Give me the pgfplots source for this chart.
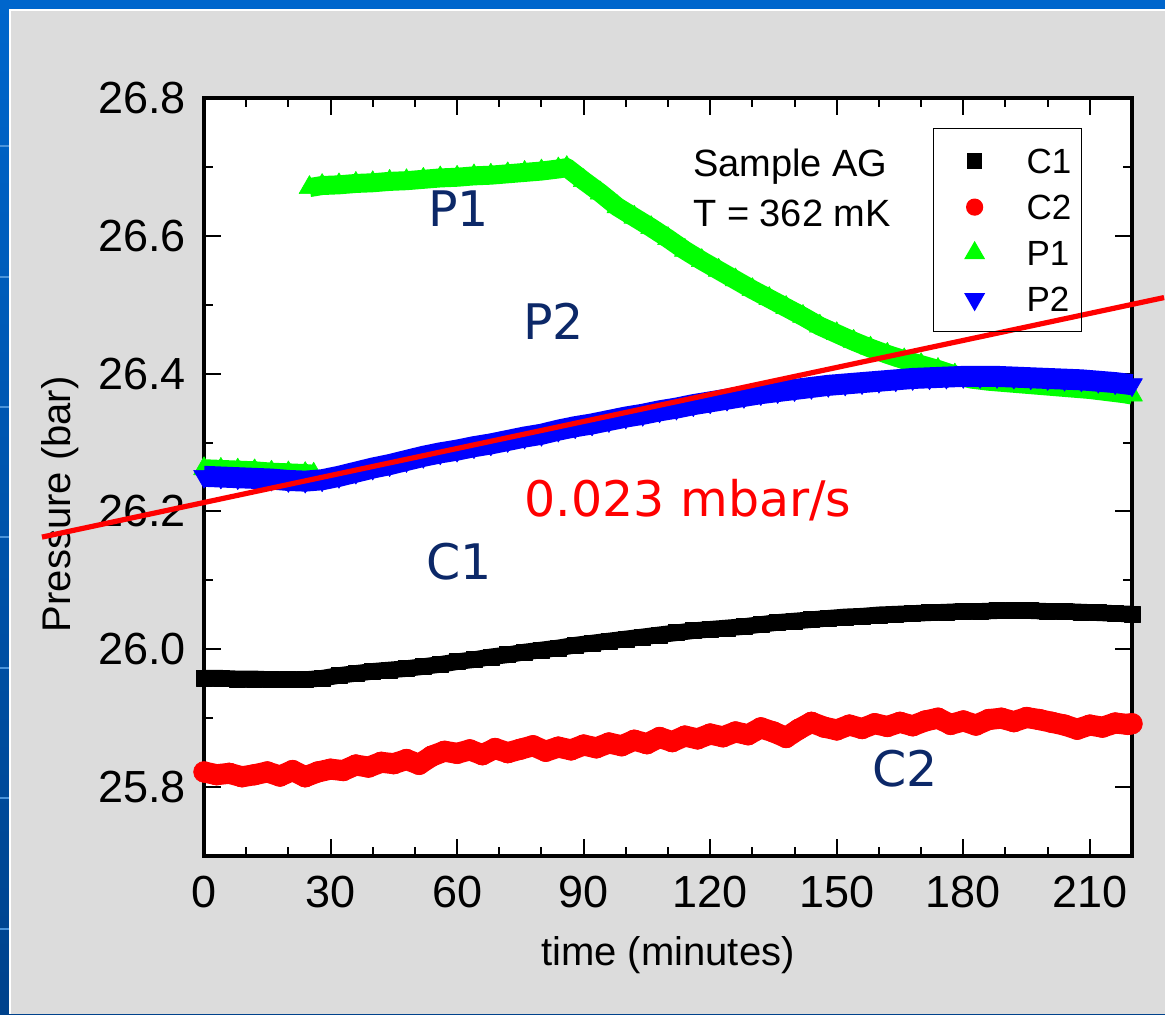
\documentclass[border=0pt]{standalone}
\usepackage{pgfplots}
\pgfplotsset{compat=1.18}
\usepackage{fontspec}
\setmainfont{Liberation Sans}
\newfontfamily\dejavu{DejaVu Sans}
\definecolor{navy}{RGB}{12,40,104}
\definecolor{slideblue}{RGB}{0,102,204}
\definecolor{slidebluedark}{RGB}{0,66,140}
\definecolor{panelgrey}{RGB}{220,220,220}
\definecolor{pgreen}{RGB}{0,255,0}
\definecolor{pblue}{RGB}{0,0,255}
\definecolor{cred}{RGB}{255,0,0}
\pgfplotsset{mylegimg/.style={legend image code/.code={\path[draw=none,fill=none] (0pt,-5.75pt) rectangle (41.5pt,5.75pt); \draw[##1] plot coordinates {(15.5pt,0pt)};}}}

\begin{document}
\begin{tikzpicture}
\shade[top color=slideblue, bottom color=slidebluedark] (0,0) rectangle (582.5pt,507pt);
\fill[slideblue] (0,502.5pt) rectangle (582.5pt,507pt);
\foreach \y in {42,107.5,172.5,238,303,368,433.5} \fill[slideblue!70!white] (0,\y pt) rectangle (4.6pt,\y pt+1.2pt);
\fill[white] (4.6pt,0) rectangle (582.5pt,502.4pt);
\fill[panelgrey] (5.4pt,0) rectangle (582.5pt,501.6pt);
\begin{axis}[
  at={(102pt,79pt)}, anchor=south west,
  scale only axis, width=464pt, height=379pt,
  xmin=0, xmax=220, ymin=25.7, ymax=26.8,
  xtick={0,30,60,90,120,150,180,210}, minor x tick num=2,
  ytick={25.8,26.0,26.2,26.4,26.6,26.8}, minor y tick num=1,
  yticklabel style={/pgf/number format/fixed, /pgf/number format/fixed zerofill, /pgf/number format/precision=1},
  /pgf/number format/assume math mode=true,
  tick label style={font=\fontsize{22.5}{27}\selectfont},
  xticklabel style={anchor=north, inner sep=0pt, yshift=-10pt},
  yticklabel style={anchor=east, inner sep=0pt, xshift=-9pt},
  tick align=inside,
  major tick length=8.3pt, minor tick length=4.7pt,
  every tick/.style={black, line width=1pt},
  axis line style={line width=1.8pt},
  axis background/.style={fill=white},
  clip=false, clip marker paths=true,
  xlabel={time (minutes)},
  label style={font=\fontsize{20}{24}\selectfont},
  xlabel style={at={(axis description cs:0.5,-0.1438)}, anchor=base},
  legend style={at={(rel axis cs:0.7856,0.9604)}, anchor=north west,
    draw=black, line width=0.6pt, fill=none,
    font=\fontsize{17.5}{20}\selectfont,
    inner xsep=5pt, inner ysep=10pt, row sep=10.5pt, column sep=0pt,
    nodes={inner sep=0pt, text height=12.5pt, text depth=0pt}},
  legend cell align=left,
]
% C1
\addplot[black, line width=8.3pt, line join=round, mark=square*, mark size=4pt, mark options={line width=0.3pt}, forget plot] table {
0 25.958
4 25.958
8 25.957
12 25.957
16 25.956
20 25.956
24 25.956
28 25.958
32 25.962
36 25.965
40 25.968
44 25.970
48 25.972
52 25.975
56 25.978
60 25.982
64 25.985
68 25.989
72 25.992
76 25.996
80 25.999
84 26.002
88 26.006
92 26.009
96 26.012
100 26.015
104 26.018
108 26.021
112 26.024
116 26.027
120 26.029
124 26.031
128 26.033
132 26.036
136 26.039
140 26.041
144 26.043
148 26.045
152 26.047
156 26.048
160 26.050
164 26.051
168 26.052
172 26.053
176 26.054
180 26.055
184 26.055
188 26.056
192 26.056
196 26.056
200 26.055
204 26.055
208 26.054
212 26.053
216 26.052
220 26.051
};
% C2
\addplot[cred, line width=10.5pt, line join=round, mark=*, mark size=5.2pt, mark options={line width=0.3pt}, forget plot] table {
0 25.822
3 25.818
6 25.820
9 25.815
12 25.818
15 25.822
18 25.816
21 25.824
24 25.815
27 25.822
30 25.826
33 25.824
36 25.832
39 25.829
42 25.836
45 25.834
48 25.840
51 25.833
54 25.845
57 25.852
60 25.849
63 25.854
66 25.847
69 25.856
72 25.850
75 25.855
78 25.860
81 25.852
84 25.858
87 25.854
90 25.861
93 25.857
96 25.864
99 25.860
102 25.868
105 25.863
108 25.872
111 25.866
114 25.874
117 25.870
120 25.877
123 25.873
126 25.880
129 25.876
132 25.886
135 25.880
138 25.872
141 25.884
144 25.894
147 25.887
150 25.883
153 25.890
156 25.885
159 25.892
162 25.888
165 25.894
168 25.889
171 25.896
174 25.900
177 25.891
180 25.896
183 25.890
186 25.898
189 25.900
192 25.895
195 25.901
198 25.898
201 25.894
204 25.890
207 25.884
210 25.890
213 25.887
216 25.893
219 25.891
220 25.892
};
% P1 first segment
\addplot[pgreen, line width=9.5pt, line join=round, mark=triangle*, mark size=6pt, mark options={line width=0.3pt}, forget plot] table {
0 26.262
4 26.261
8 26.260
12 26.259
16 26.257
20 26.256
24 26.255
26 26.254
};
% P1 second segment
\addplot[pgreen, line width=9.5pt, line join=round, mark=triangle*, mark size=6pt, mark options={line width=0.3pt}, forget plot] table {
25 26.670
28 26.673
32 26.674
36 26.676
40 26.677
44 26.679
48 26.680
52 26.682
56 26.684
60 26.685
64 26.687
68 26.688
72 26.690
76 26.692
80 26.694
84 26.697
86 26.699
90 26.680
94 26.662
98 26.642
102 26.627
106 26.612
110 26.596
114 26.579
118 26.564
122 26.550
126 26.536
130 26.522
134 26.509
138 26.496
142 26.483
146 26.469
150 26.458
154 26.447
158 26.437
162 26.428
166 26.420
170 26.413
174 26.406
178 26.398
182 26.392
186 26.389
190 26.387
194 26.385
198 26.383
202 26.381
206 26.379
210 26.377
214 26.374
218 26.371
220 26.369
};
% P2
\addplot[pblue, line width=10.5pt, line join=round, mark=triangle*, mark size=6pt, mark options={line width=0.3pt, rotate=180}, forget plot] table {
0 26.251
4 26.250
8 26.249
12 26.248
16 26.247
20 26.245
24 26.244
28 26.246
32 26.251
36 26.257
40 26.263
44 26.268
48 26.274
52 26.280
56 26.285
60 26.289
64 26.294
68 26.298
72 26.303
76 26.308
80 26.312
84 26.318
88 26.323
92 26.327
96 26.332
100 26.337
104 26.341
108 26.346
112 26.350
116 26.355
120 26.359
124 26.363
128 26.367
132 26.371
136 26.374
140 26.377
144 26.380
148 26.383
152 26.385
156 26.387
160 26.389
164 26.391
168 26.393
172 26.394
176 26.395
180 26.396
184 26.396
188 26.396
192 26.395
196 26.394
200 26.393
204 26.392
208 26.391
212 26.389
216 26.387
220 26.384
};
\node[rotate=90, anchor=base, inner sep=0pt, font=\fontsize{20}{24}\selectfont] at (axis description cs:-0.1444,0.464) {Pressure (bar)};
% fit line
\addplot[cred, line width=2.6pt, forget plot] coordinates {(-38.41,26.1628) (227.6,26.5104)};

\addlegendimage{only marks, mark=square*, mark size=3.6pt, black, mylegimg}
\addlegendentry{C1}
\addlegendimage{only marks, mark=*, mark size=4pt, cred, mylegimg}
\addlegendentry{C2}
\addlegendimage{only marks, mark=triangle*, mark size=5.5pt, pgreen, mylegimg}
\addlegendentry{P1}
\addlegendimage{only marks, mark=triangle*, mark size=5.5pt, pblue, mark options={rotate=180}, mylegimg}
\addlegendentry{P2}

\node[anchor=base west, text=navy, font=\dejavu\fontsize{24.5}{29}\selectfont, inner sep=0pt] at (axis cs:53.1,26.613) {P1};
\node[anchor=base west, text=navy, font=\dejavu\fontsize{24.5}{29}\selectfont, inner sep=0pt] at (axis cs:75.6,26.449) {P2};
\node[anchor=base west, text=navy, font=\dejavu\fontsize{24.5}{29}\selectfont, inner sep=0pt] at (axis cs:52.6,26.101) {C1};
\node[anchor=base west, text=navy, font=\dejavu\fontsize{24.5}{29}\selectfont, inner sep=0pt] at (axis cs:158.4,25.801) {C2};
\node[anchor=base west, text=cred, font=\dejavu\fontsize{24.5}{29}\selectfont, inner sep=0pt] at (axis cs:75.9,26.193) {0.023 mbar/s};
\node[anchor=base west, font=\fontsize{19}{23}\selectfont, inner sep=0pt] at (axis cs:115.9,26.6855) {Sample AG};
\node[anchor=base west, font=\fontsize{19}{23}\selectfont, inner sep=0pt] at (axis cs:115.9,26.613) {T = 362 mK};
\end{axis}
\pgfresetboundingbox
\path[use as bounding box] (0,0) rectangle (582.5pt,507pt);
\end{tikzpicture}
\end{document}
